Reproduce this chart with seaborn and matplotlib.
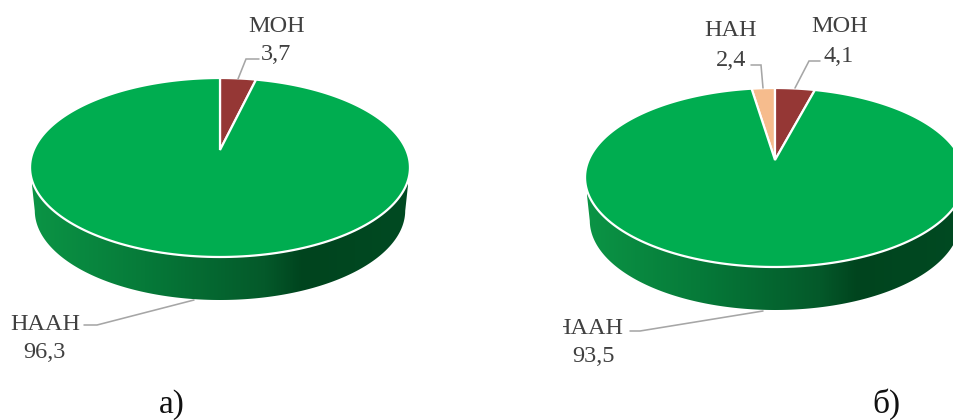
import numpy as np
import matplotlib
matplotlib.use("Agg")
import matplotlib.pyplot as plt
import seaborn as sns
from matplotlib.colors import LinearSegmentedColormap
from matplotlib.patches import Polygon, Rectangle

# ---- data ----
labels_a = ["МОН", "НААН"]
values_a = [3.7, 96.3]
text_a = ["3,7", "96,3"]
labels_b = ["НАН", "МОН", "НААН"]
values_b = [2.4, 4.1, 93.5]
text_b = ["2,4", "4,1", "93,5"]
colors_a = ["#953735", "#00AD50"]
colors_b = ["#F6BC8D", "#953735", "#00AD50"]

sns.set_theme(style="white")
plt.rcParams["font.family"] = ["Liberation Serif", "DejaVu Serif"]

TXT = "#404040"
LINE = "#A6A6A6"
B = 0.1955; A = 86.08; C = 186.3; DEPTH = 43
side_cmap = LinearSegmentedColormap.from_list(
    "side", [(0, "#0B9445"), (0.3, "#067A39"), (0.62, "#04592A"),
             (0.72, "#00441E"), (1, "#004A22")])

fig = plt.figure(figsize=(9.54, 4.2), dpi=100)
ax = fig.add_axes([0, 0, 1, 1])


def project(x, y, cx, cy, shrink=1.0, dy=0):
    d = 1 + B * y
    return np.column_stack([cx + shrink * C * x / d, cy + dy - A * y / d])


def draw_pie(values, colors, cx, cy, start):
    t = np.linspace(0, 2 * np.pi, 721)
    bottom = project(np.cos(t), np.sin(t), cx, cy, 0.975, DEPTH)
    top = project(np.cos(t), np.sin(t), cx, cy)
    lo = bottom[bottom[:, 1] > cy + 17 + DEPTH]
    lo = lo[np.argsort(lo[:, 0])]
    hi = top[top[:, 1] < cy + 17.5]
    hi = hi[np.argsort(-hi[:, 0])]
    outline = np.vstack([lo, hi])
    clip = Polygon(outline, closed=True, transform=ax.transData, fc="none", ec="none")
    ax.add_patch(clip)
    grad = np.linspace(0, 1, 256).reshape(1, -1)
    im = ax.imshow(grad, cmap=side_cmap, aspect="auto", zorder=1,
                   extent=(cx - 188, cx + 188, cy + 160, cy), interpolation="bilinear")
    im.set_clip_path(clip)
    wedges, _ = ax.pie(values, startangle=start, counterclock=False, colors=colors)
    for w, col in zip(wedges, colors):
        th = np.radians(np.linspace(w.theta1, w.theta2, 240))
        xs = np.r_[0, np.cos(th)]
        ys = np.r_[0, np.sin(th)]
        ax.add_patch(Polygon(project(xs, ys, cx, cy), closed=True, fc=col,
                             ec="white", lw=1.6, zorder=3, joinstyle="miter"))
        w.remove()


draw_pie(values_a, colors_a, 220, 150, 90)
draw_pie(values_b, colors_b, 775, 160, 90 + values_b[0] * 3.6)

ax.set_aspect("auto")
ax.set_xlim(0, 954)
ax.set_ylim(420, 0)
ax.axis("off")


def lead(pts):
    p = np.array(pts)
    ax.plot(p[:, 0], p[:, 1], color=LINE, lw=1.15, zorder=4, solid_joinstyle="miter")


def lab(x, y, s, size=17.5, color=TXT, clip=None):
    t = ax.text(x, y, s, ha="center", va="center", fontsize=size, color=color, zorder=5)
    if clip is not None:
        r = Rectangle((clip, 0), 954 - clip, 420, transform=ax.transData)
        t.set_clip_path(r)
        t.set_clip_on(True)
    return t


lead([(238, 79), (246, 59), (259, 59)])
lead([(84, 325), (97, 325), (194, 300)])
lead([(763, 88), (761, 65), (751, 65)])
lead([(795, 88), (809, 61), (820, 61)])
lead([(630, 331), (640, 331), (763, 311)])

lab(277, 26, labels_a[0]); lab(276, 55, text_a[0])
lab(45, 324, labels_a[1]); lab(44, 352, text_a[1])
lab(731, 30, labels_b[0]); lab(731, 60, text_b[0])
lab(840, 27, labels_b[1]); lab(839, 56, text_b[1])
lab(588, 329, labels_b[2], clip=563); lab(594, 357, text_b[2])
lab(172, 405, "а)", size=24, color="#111111")
lab(886, 404, "б)", size=24, color="#111111")

fig.savefig("out.png", dpi=100)
